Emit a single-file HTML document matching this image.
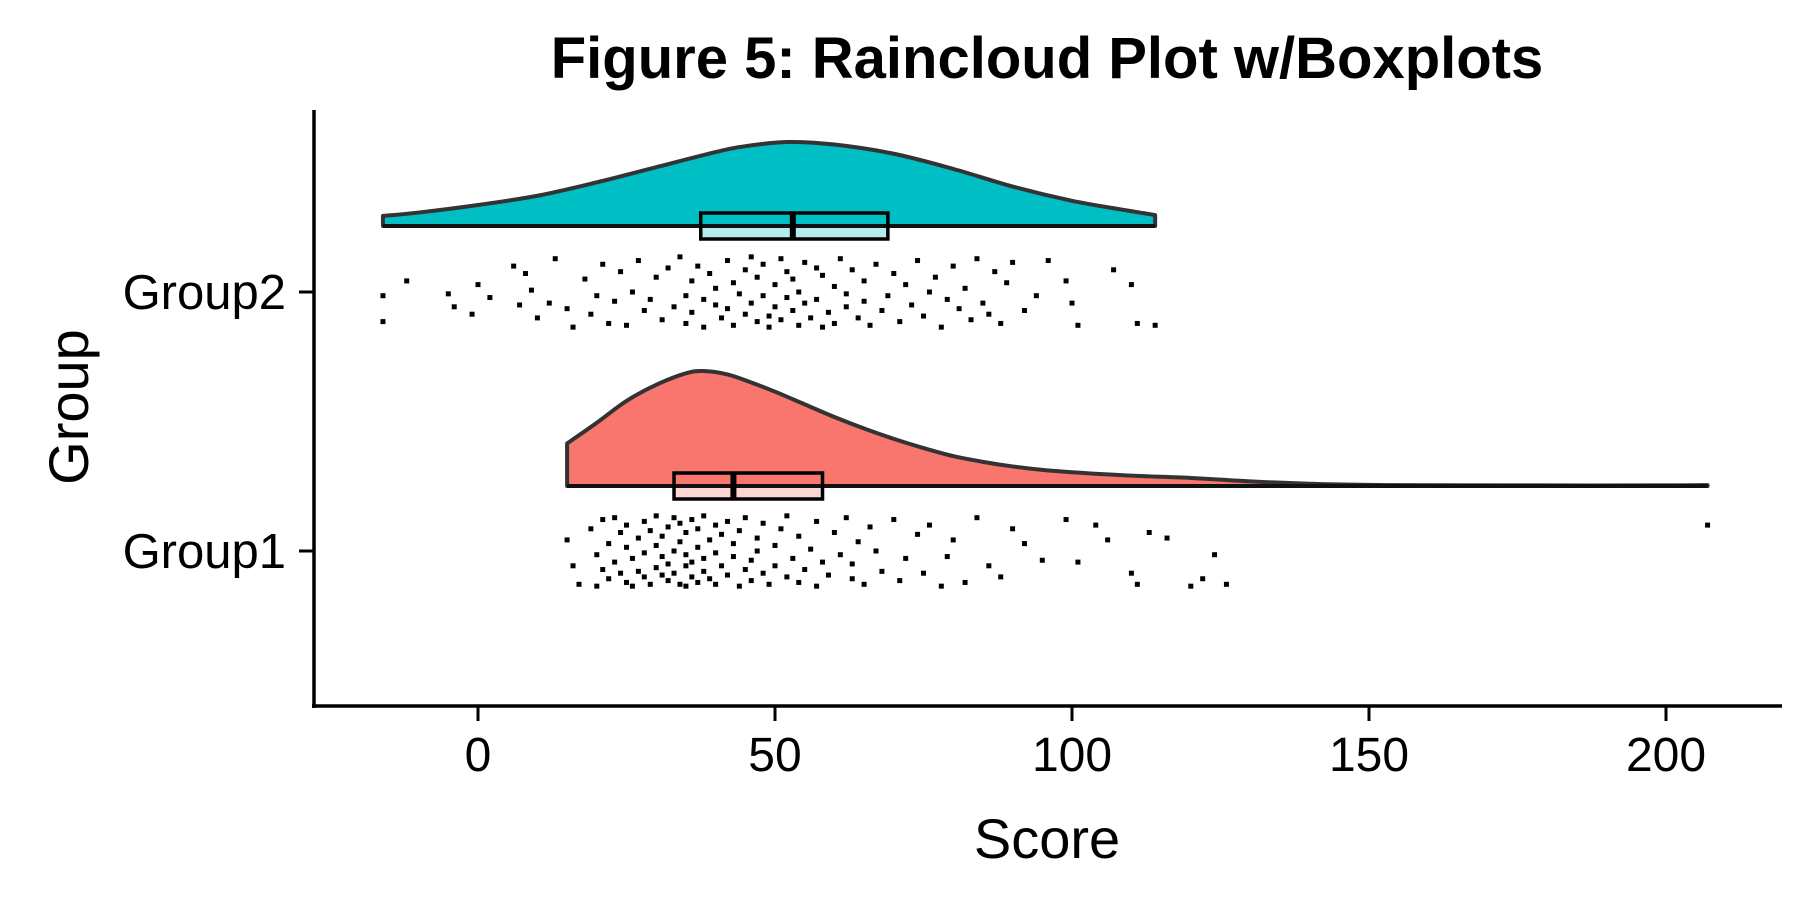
<!DOCTYPE html>
<html><head><meta charset="utf-8">
<style>
html,body{margin:0;padding:0;background:#fff;}
svg{display:block;font-family:"Liberation Sans",Arial,sans-serif;}
</style></head>
<body>
<svg id="chart" width="1800" height="900" viewBox="0 0 1800 900">
  <text x="1047" y="78" text-anchor="middle" font-size="58" font-weight="bold">Figure 5: Raincloud Plot w/Boxplots</text>
  <g id="plot"></g>
  <g id="axes"></g>
  <text x="1047" y="858" text-anchor="middle" font-size="56">Score</text>
  <text transform="translate(88,407) rotate(-90)" text-anchor="middle" font-size="56">Group</text>
</svg>
<script>
// ---- data ----
const groups = ["Group1","Group2"];
const xTicks = [0,50,100,150,200];
const xTickLabels = ["0","50","100","150","200"];
// density curves (x grid and relative density, 1 = peak)
const g1DensX = [15,20,25,30,35,38,42,46,50,55,60,65,70,75,80,85,90,95,100,110,120,130,140,150,160,180,200,207];
const g1DensY = [0.37,0.55,0.74,0.88,0.98,1.0,0.97,0.9,0.82,0.71,0.6,0.5,0.41,0.33,0.26,0.21,0.17,0.14,0.12,0.09,0.07,0.04,0.02,0.01,0.006,0.005,0.005,0.008];
const g2DensX = [-16,-10,0,10,20,30,40,45,52,60,70,80,90,100,108,114];
const g2DensY = [0.12,0.16,0.25,0.36,0.52,0.7,0.88,0.95,1.0,0.97,0.86,0.68,0.47,0.3,0.2,0.13];
// box stats: [q1, median, q3]
const g1Box = [33, 43, 58];
const g2Box = [37.5, 53, 69];
// raw points: scores and jitter (-1..1)
const g1Scores = [15,16,17,19,20,20,21,21,22,22,23,23,24,24,25,25,25,26,26,27,27,28,28,28,29,29,30,30,30,31,31,31,32,32,32,33,33,33,34,34,34,35,35,35,35,36,36,36,37,37,37,38,38,38,39,39,40,40,40,41,41,42,42,43,43,44,44,45,45,46,46,47,47,48,48,49,50,50,51,52,52,53,54,54,55,56,57,57,58,59,60,61,62,63,63,64,65,66,67,68,70,71,72,74,75,76,78,79,80,82,84,86,88,90,92,95,99,101,104,106,110,111,113,116,120,122,124,126,207];
const g1Jit = [-0.3,0.4,0.9,-0.6,0.1,0.95,-0.85,0.5,-0.2,0.75,-0.9,0.3,0.6,-0.5,-0.1,0.85,-0.7,0.2,0.95,-0.35,0.55,-0.8,0.05,0.7,-0.55,0.9,-0.15,0.45,-0.95,0.65,-0.4,0.15,0.8,-0.65,0.35,-0.9,0.0,0.6,-0.25,0.9,-0.75,0.4,-0.5,0.95,0.1,-0.85,0.3,0.7,-0.1,-0.6,0.85,0.2,-0.95,0.55,-0.3,0.75,0.05,-0.7,0.9,-0.45,0.4,0.65,-0.8,0.15,-0.2,0.95,-0.55,0.5,-0.9,0.25,0.8,-0.35,0.0,0.6,-0.75,0.9,-0.15,0.4,-0.6,0.7,-0.95,0.2,0.85,-0.4,0.5,-0.05,0.95,-0.8,0.3,0.65,-0.5,0.1,-0.9,0.75,0.35,-0.25,0.9,-0.65,0.0,0.55,-0.85,0.8,0.2,-0.45,0.6,-0.7,0.95,0.15,-0.3,0.85,-0.9,0.4,0.7,-0.6,-0.2,0.25,-0.85,0.3,-0.7,-0.3,0.6,0.9,-0.5,-0.35,0.95,0.75,0.1,0.9,-0.7,0.85];
const g2Scores = [-16,-16,-12,-5,-4,-1,0,2,6,7,8,9,10,12,13,15,16,18,19,20,21,22,23,24,25,26,27,28,29,30,31,32,33,34,35,35,36,36,37,38,38,39,40,40,41,42,42,43,43,44,45,45,46,46,47,47,48,48,49,49,50,50,51,51,52,52,53,53,54,54,55,55,56,57,57,58,58,59,60,60,61,62,62,63,64,65,65,66,67,68,69,70,71,72,73,74,75,76,77,78,79,80,81,82,83,84,85,86,87,88,89,90,92,94,96,99,100,101,107,110,111,114];
const g2Jit = [0.1,0.8,-0.3,0.05,0.4,0.6,-0.2,0.15,-0.7,0.35,-0.5,-0.05,0.7,0.3,-0.9,0.45,0.95,-0.35,0.6,0.1,-0.75,0.85,0.25,-0.55,0.9,0.0,-0.85,0.5,0.2,-0.4,0.75,-0.65,0.4,-0.95,0.1,0.85,-0.3,0.55,-0.7,0.2,0.95,-0.5,0.35,-0.1,0.7,-0.85,0.45,-0.25,0.9,0.05,-0.6,0.6,-0.95,0.3,0.8,-0.4,0.1,-0.75,0.65,0.95,-0.2,0.4,-0.9,0.75,0.15,-0.55,0.5,-0.35,0.9,0.0,-0.8,0.3,0.7,-0.65,0.2,0.95,-0.45,0.55,-0.15,0.85,-0.9,0.4,0.05,-0.6,0.7,0.25,-0.3,0.9,-0.75,0.5,0.1,-0.5,0.8,-0.2,0.35,-0.85,0.65,0.0,-0.4,0.95,0.2,-0.7,0.45,-0.1,0.75,-0.9,0.3,0.6,-0.55,0.85,-0.25,-0.8,0.5,0.1,-0.85,-0.3,0.3,0.9,-0.6,-0.2,0.85,0.9];

// ---- scales ----
const X0 = 478, PX_PER = 297/50;
function xs(v){ return X0 + v*PX_PER; }
const groupY = {Group1:551, Group2:292};
const NS = "http://www.w3.org/2000/svg";
function mk(tag, attrs, parent){
  const e = document.createElementNS(NS, tag);
  for (const k in attrs) e.setAttribute(k, attrs[k]);
  parent.appendChild(e); return e;
}
const plot = document.getElementById('plot');
const axes = document.getElementById('axes');

function smoothPath(pts){
  // Catmull-Rom to cubic bezier
  let d = '';
  for (let i = 0; i < pts.length - 1; i++){
    const p0 = pts[Math.max(0, i-1)], p1 = pts[i], p2 = pts[i+1], p3 = pts[Math.min(pts.length-1, i+2)];
    const c1x = p1[0] + (p2[0]-p0[0])/6, c1y = p1[1] + (p2[1]-p0[1])/6;
    const c2x = p2[0] - (p3[0]-p1[0])/6, c2y = p2[1] - (p3[1]-p1[1])/6;
    d += ' C' + c1x + ',' + c1y + ' ' + c2x + ',' + c2y + ' ' + p2[0] + ',' + p2[1];
  }
  return d;
}

function drawGroup(name, dx, dy, peakPx, box, scores, jit, color, light, baseOff){
  const gy = groupY[name];
  const base = gy - baseOff;
  const g = mk('g', {}, plot);
  
  
  const bh = 13;
  const bf = mk('rect', {x: xs(box[0]), y: base - bh, width: xs(box[2]) - xs(box[0]), height: 2*bh, fill: light}, g);
  
  
  const pts = dx.map((v, i) => [xs(v), base - dy[i]*peakPx]);
  let d = 'M' + xs(dx[0]) + ',' + base + ' L' + pts[0][0] + ',' + pts[0][1] + smoothPath(pts);
  d += ' L' + xs(dx[dx.length-1]) + ',' + base + ' Z';
  const cloud = mk('path', {d: d, fill: color, stroke: '#333', 'stroke-width': 4, 'stroke-linejoin': 'round'}, g);
  
  
  mk('rect', {x: xs(box[0]), y: base, width: xs(box[2]) - xs(box[0]), height: bh, fill: light}, g);
  mk('line', {x1: xs(dx[0]), x2: xs(dx[dx.length-1]), y1: base, y2: base, stroke: '#111', 'stroke-width': 4}, g);
  const bo = mk('rect', {x: xs(box[0]), y: base - bh, width: xs(box[2]) - xs(box[0]), height: 2*bh, fill: 'none', stroke: '#000', 'stroke-width': 3.5}, g);
  
  
  const med = mk('line', {x1: xs(box[1]), x2: xs(box[1]), y1: base - bh, y2: base + bh, stroke: '#000', 'stroke-width': 6}, g);
  
  
  const pg = mk('g', {fill: '#000'}, g);
  
  
  for (let i = 0; i < scores.length; i++){
    const p = mk('rect', {x: xs(scores[i]) - 2.5, y: gy + jit[i]*37 - 2.5, width: 5, height: 5}, pg);
    
    
  }
}
drawGroup('Group2', g2DensX, g2DensY, 84, g2Box, g2Scores, g2Jit, '#00BFC4', '#B2ECED', 66);
drawGroup('Group1', g1DensX, g1DensY, 115, g1Box, g1Scores, g1Jit, '#F8766D', '#FDD6D3', 65);

mk('line', {x1: 314, x2: 314, y1: 110, y2: 708, stroke: '#000', 'stroke-width': 3.5}, axes);
mk('line', {x1: 312, x2: 1782, y1: 706, y2: 706, stroke: '#000', 'stroke-width': 3.5}, axes);
for (let i = 0; i < xTicks.length; i++){
  const x = xs(xTicks[i]);
  const t = mk('line', {x1: x, x2: x, y1: 707, y2: 721, stroke: '#000', 'stroke-width': 3}, axes);
  
  
  const l = mk('text', {x: x, y: 771, 'text-anchor': 'middle', 'font-size': 48}, axes);
  l.textContent = xTickLabels[i];
  
  
}
for (const gname of groups){
  const y = groupY[gname];
  const t = mk('line', {x1: 299, x2: 313, y1: y, y2: y, stroke: '#000', 'stroke-width': 3}, axes);
  
  
  const l = mk('text', {x: 286, y: y + 17, 'text-anchor': 'end', 'font-size': 49}, axes);
  l.textContent = gname;
  
  
}
</script>
</body></html>
